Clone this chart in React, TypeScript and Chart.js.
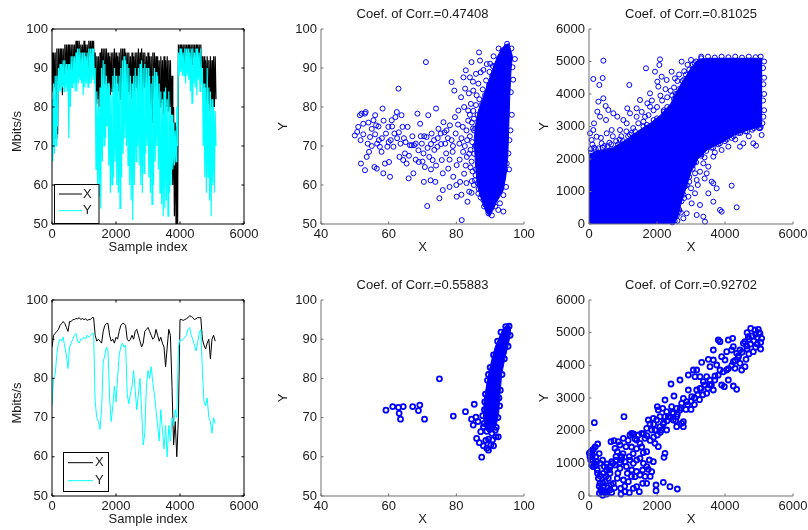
import React, { useEffect, useRef } from "react";
import { Chart, registerables } from "chart.js";
Chart.register(...registerables);

const FONT = '"Liberation Sans", Arial, Helvetica, sans-serif';
const TEXT = "#1a1a1a";
const BLUE = "#0000ff";
const CYAN = "#00ffff";
const AXIS_GRAY = "#707070";

// ---------- Time series (one reading per 50 samples) ----------
const sampleIdx = [
  0, 50, 100, 150, 200, 250, 300, 350, 400, 450,
  500, 550, 600, 650, 700, 750, 800, 850, 900, 950,
  1000, 1050, 1100, 1150, 1200, 1250, 1300, 1350, 1400, 1450,
  1500, 1550, 1600, 1650, 1700, 1750, 1800, 1850, 1900, 1950,
  2000, 2050, 2100, 2150, 2200, 2250, 2300, 2350, 2400, 2450,
  2500, 2550, 2600, 2650, 2700, 2750, 2800, 2850, 2900, 2950,
  3000, 3050, 3100, 3150, 3200, 3250, 3300, 3350, 3400, 3450,
  3500, 3550, 3600, 3650, 3700, 3750, 3800, 3850, 3900, 3950,
  4000, 4050, 4100, 4150, 4200, 4250, 4300, 4350, 4400, 4450,
  4500, 4550, 4600, 4650, 4700, 4750, 4800, 4850, 4900, 4950,
  5000, 5050, 5100,
];

// Top-left panel: noisy series, high / low reading per 50-sample bin
const topYHigh = [
  82, 86, 88, 88, 90, 91, 91, 92, 92, 91,
  91, 91, 93, 93, 93, 94, 95, 95, 94, 94,
  94, 93, 94, 95, 95, 95, 95, 90, 84, 80,
  85, 90, 92, 91, 88, 86, 85, 83, 88, 90,
  88, 86, 88, 90, 92, 93, 92, 91, 90, 88,
  86, 88, 90, 88, 90, 91, 92, 90, 91, 90,
  90, 88, 86, 88, 90, 89, 88, 86, 84, 82,
  84, 85, 82, 84, 80, 78, 76, 74, 80, 94,
  95, 95, 94, 95, 95, 95, 94, 95, 95, 94,
  95, 95, 94, 95, 90, 86, 85, 90, 85, 84,
  82, 80, 79,
];
const topYLow = [
  66, 68, 70, 75, 84, 84, 85, 84, 85, 84,
  72, 80, 85, 86, 84, 84, 86, 87, 86, 83,
  85, 86, 85, 86, 86, 87, 86, 64, 60, 57,
  54, 66, 70, 72, 75, 65, 58, 60, 62, 66,
  60, 58, 54, 62, 68, 72, 70, 65, 60, 56,
  51, 60, 66, 70, 65, 60, 58, 63, 68, 70,
  62, 58, 55, 60, 66, 70, 64, 58, 55, 52,
  54, 56, 52, 58, 60, 64, 65, 66, 70, 88,
  89, 88, 88, 86, 88, 87, 84, 81, 86, 85,
  83, 87, 84, 86, 70, 62, 58, 62, 56, 52,
  60, 58, 70,
];
const topXHigh = [
  94, 94, 94, 95, 95, 95, 95, 95, 96, 96,
  96, 96, 96, 96, 96, 97, 97, 97, 96, 96,
  97, 96, 96, 97, 97, 97, 97, 94, 93, 93,
  94, 95, 95, 95, 95, 94, 93, 94, 94, 95,
  94, 93, 94, 95, 95, 95, 94, 94, 94, 93,
  94, 93, 94, 94, 95, 94, 95, 94, 94, 93,
  94, 93, 93, 94, 94, 93, 93, 92, 93, 92,
  93, 92, 93, 92, 92, 88, 80, 76, 75, 96,
  96, 96, 96, 96, 96, 96, 96, 96, 96, 96,
  96, 96, 96, 96, 93, 93, 92, 93, 92, 93,
  92, 93, 93,
];
const topXLow = [
  84, 85, 72, 73, 85, 86, 83, 86, 86, 87,
  86, 87, 88, 88, 88, 89, 89, 88, 89, 88,
  89, 88, 89, 89, 90, 89, 88, 81, 82, 80,
  84, 85, 86, 85, 84, 86, 83, 84, 85, 84,
  83, 84, 82, 84, 85, 86, 85, 84, 83, 82,
  80, 84, 85, 84, 83, 85, 84, 85, 82, 84,
  83, 80, 76, 82, 84, 83, 82, 80, 81, 78,
  82, 80, 79, 80, 78, 60, 52, 50, 50, 90,
  91, 91, 90, 91, 91, 91, 90, 91, 91, 90,
  91, 90, 90, 90, 85, 82, 80, 81, 79, 80,
  78, 80, 82,
];

// Bottom-left panel: smoother series
const botX = [
  88, 91, 91.5, 92, 92.5, 93.5, 94, 94.5, 94, 93,
  92, 94.5, 94.5, 95, 95, 95.3, 95.2, 95.5, 95, 95.3,
  95, 95.2, 94.8, 95, 95, 95.5, 95.5, 91, 89.5, 90,
  89.5, 89, 92, 93.5, 94, 94, 91, 89.5, 90, 89,
  90.5, 90, 92, 93.5, 94, 94, 93.5, 90, 89.5, 90,
  91, 90, 92, 92.5, 91, 89.5, 88, 89, 92, 92.5,
  93, 92, 91, 90, 90.5, 92.5, 91, 89.5, 90.5, 89,
  88, 83, 88, 92.5, 91, 78, 63, 69, 60, 70,
  95, 95, 94.8, 95, 95.2, 95.5, 96, 95.8, 95.5, 95,
  95.2, 95.5, 95.5, 95.5, 90, 88.5, 87.5, 89, 90, 85,
  90, 91, 89.5,
];
const botY = [
  73, 80, 81, 86, 89, 90, 89.5, 90.5, 88, 86,
  82.5, 88, 89, 90, 91, 91.5, 89.5, 89, 90, 90,
  90.5, 90, 91, 90.5, 91, 91.5, 91.5, 74, 70, 69,
  67, 72, 84, 86, 88, 87, 75, 69, 73, 78,
  74, 80, 86, 88, 89, 88, 88.5, 76, 73.5, 76,
  78, 82, 77, 72, 76, 80, 72, 63, 66, 78,
  82, 80, 83, 79, 76, 72, 68, 64, 72, 67,
  62, 68, 60, 68, 64, 70, 68, 72, 70, 88,
  90, 89.5, 90, 90.5, 91, 92.5, 93, 91, 90, 88.5,
  87, 89, 91.5, 92.5, 82, 74, 73, 75, 70, 69,
  66, 70, 68.5,
];

// ---------- Scatter panels ----------
const titles = [
  "Coef. of Corr.=0.47408",
  "Coef. of Corr.=0.81025",
  "Coef. of Corr.=0.55883",
  "Coef. of Corr.=0.92702",
];

// Top-middle: saturated cloud outline (lower / upper edge) + individual markers
const cloudTM_lower = [[85.3,72],[85.6,66],[86.2,60],[86.8,58],[87.8,55.5],[88.8,53],[89.8,52],[90.8,53.5],[91.8,55.5],[92.8,57],[93.8,58.5],[94.6,62],[95.2,67],[95.5,75],[95.8,83],[96.2,90],[96.6,93]];
const cloudTM_upper = [[85.3,72],[85.8,76],[86.5,79],[87.5,81.5],[88.5,84],[89.5,86.5],[90.5,89],[91.5,91.5],[92.5,93.5],[93.5,95],[94.5,96],[95.5,96.2],[96.6,93]];
const pointsTM = [
  [50.0,72.7],[50.7,73.6],[51.0,74.9],[51.5,77.9],[51.7,71.5],[52.0,78.3],[52.5,75.7],[53.0,78.3],[53.2,78.7],[51.8,65.5],
  [53.0,63.8],[53.5,67.2],[53.8,70.6],[54.2,68.5],[54.5,72.3],[55.0,74.4],[55.5,76.6],[56.0,77.9],[56.3,75.3],[55.8,64.6],
  [56.5,64.2],[56.6,70.6],[57.1,71.5],[57.4,69.8],[57.9,68.5],[58.2,79.6],[58.4,63.0],[58.9,65.5],[59.2,73.2],[59.6,69.8],
  [59.9,74.9],[60.1,65.9],[60.4,62.1],[60.6,71.5],[60.9,76.6],[61.4,69.8],[61.7,73.2],[62.0,77.4],[62.4,78.7],[62.9,84.7],
  [63.2,67.2],[63.5,70.6],[63.8,77.9],[64.1,74.9],[64.3,66.4],[64.8,68.1],[65.3,65.5],[65.6,74.9],[65.9,61.7],[66.3,70.2],
  [66.8,70.2],[67.3,63.0],[67.5,70.2],[68.0,70.6],[68.5,78.3],[68.8,68.9],[68.9,65.9],[69.3,75.7],[69.8,70.6],[70.3,68.1],
  [70.4,60.8],[70.7,64.6],[71.0,91.5],[71.2,72.3],[71.4,54.6],[71.7,77.9],[72.0,67.2],[72.4,61.2],[72.7,73.2],[73.0,66.4],
  [73.4,71.5],[73.8,60.8],[74.0,79.6],[74.4,69.8],[74.7,74.4],[75.0,56.6],[75.4,73.2],[75.7,66.4],[76.0,58.7],[76.2,76.1],
  [76.7,70.6],[77.0,68.1],[77.1,74.0],[77.6,64.2],[78.1,75.3],[78.6,86.4],[78.6,71.5],[78.9,68.5],[79.1,62.1],[79.4,84.2],
  [79.6,77.4],[79.8,73.2],[80.1,65.1],[80.1,57.0],[80.6,79.1],[80.9,70.6],[81.1,60.8],[81.4,82.5],[81.6,51.0],[81.9,74.9],
  [82.1,87.6],[82.3,62.9],[82.6,84.7],[82.8,89.4],[83.1,67.2],[83.3,55.7],[83.5,79.1],[83.8,58.3],[84.0,87.6],[84.3,80.8],
  [84.5,91.5],[85.0,84.2],[85.2,60.0],[85.5,61.2],[85.8,88.5],[86.5,57.8],[86.7,94.0],[87.0,91.9],[87.2,88.9],[88.0,56.1],
  [89.0,54.4],[89.5,52.7],[90.0,91.1],[92.9,55.3],[93.9,57.4],[94.4,63.8],[94.9,65.5],[95.4,68.1],[95.7,71.5],[96.1,83.8],
  [96.6,90.2],[97.3,92.3],[93.9,53.2],[92.4,53.6],
  [81.5,72],[82.5,70],[83,74],[83.5,76.5],[84,72.5],[84.2,69],[84.5,66],[84.8,63.5],[84.6,76],[84,78],
  [83.2,71.5],[82,68.5],[81,66.5],[80.5,75.5],[79,70],[78,66.5],[77.5,72],[76.5,73.5],[75.5,70.5],[74.5,72],
  [73.5,69],[72.5,70.5],[71.5,69.5],[70.5,72.5],[69.5,72.5],[67,72.5],[65,71],[62.5,72],[61,75],[58,72],
  [57,75],[55,70],[52.5,73],[54,76],[56,73],[58.5,76.5],[60,71],[63,73.5],[64.5,72],[66,67.5],
  [68,66.5],[70,66],[72.5,64],[74,65],[76,63],[78,59.5],[80,60],[81.5,57.5],[83,60.5],[84.5,58],
  [85.8,64],[85.3,68],[84.9,86.5],[83.7,83.5],[82.3,80],[86,83],[86.5,86],[88,89.5],[89,91],[91,93],
  [92.5,95],[95,96.2],[96.3,95],[96.8,87],[96.4,78],[96,74],[95.6,64],[94.7,59.5],[91.5,54.5],[90.5,52.2],
  [88.5,55],[87.5,57.5],[86.3,60.5],[85.8,70],[85.6,74.5],[86.3,78],[87.4,80.5],[88.5,83],[89.6,85.5],[90.6,88],
  [91.6,90.5],[92.6,92.5],[93.6,94.5],
  [85.5,70],[85.2,74],[85.7,62.5],[86.6,59],[87.2,56.8],[88.2,54.5],[84.7,71],[84.9,74.5],[85.2,77],[85.8,80.5],
  [86.8,82],[87.8,84.5],[88.8,86.8],[89.8,89],[90.8,90.5],[84.2,64.5],[84.6,61],[83.8,68],[82.8,65],[85,79],
];

// Top-right: saturated band outline + individual markers
const cloudTR_lower = [[0,0],[2500,0],[2600,200],[2700,600],[2850,1100],[3000,1600],[3200,2000],[3500,2300],[3900,2500],[4300,2750],[4700,2900],[5100,3000]];
const cloudTR_upper = [[0,2150],[300,2250],[700,2350],[1100,2600],[1500,2900],[1800,3100],[2100,3350],[2400,3700],[2700,4300],[3000,4800],[3200,5050],[3500,5100],[5100,5100]];
const pointsTR = [
  [422,5026],[127,4462],[402,4492],[304,4277],[422,3867],[275,3764],[490,3631],[569,3508],[716,3405],[833,3303],
  [1010,3200],[1186,4277],[1127,3559],[1206,3405],[1402,3559],[1676,4790],[1716,3713],[1794,3610],[1941,4687],[2010,4379],
  [2069,4892],[2039,4226],[2137,4533],[2088,5067],[2284,4431],[2431,4687],[2529,4482],[2725,4995],[245,3456],[324,3303],
  [127,2892],[225,2687],[520,2790],[667,2892],[78,2585],[373,2482],[912,2892],[1108,3097],[275,2328],[1500,3815],
  [1794,4020],[30,2790],[147,3097],[500,3200],
  [600,2500],[800,2550],[950,2700],[1200,2750],[1300,2950],[1450,3100],[1600,3150],[1650,3300],[1750,3350],[1900,3500],
  [2000,3600],[2150,3800],[2200,3500],[2300,3900],[2400,4100],[2500,4200],[2600,4400],[2650,4600],[2800,4700],[2900,4900],
  [3000,5050],[3100,4950],[3300,5150],[3400,5000],[2600,4000],[2450,3950],[2800,4450],[1400,3300],[1100,2850],[900,2600],
  [450,2400],[200,2300],[100,2450],[60,2200],[350,2650],[700,2700],[1550,3450],[1850,3800],[2250,4150],[2100,3950],
  [2755,1969],[2971,2072],[3118,1559],[3265,1610],[3461,1559],[3608,1303],[3657,1251],[3755,1097],[4196,1179],[4343,513],
  [3657,687],[3853,431],[3902,380],[3363,226],[3412,72],[3118,944],[3265,585],[3020,636],[2873,328],[2775,174],
  [3167,277],[3657,2072],[3902,2277],[4098,2380],[4441,2380],[4539,2482],[4833,2482],[4912,2410],[5078,2738],[5029,2944],
  [3363,1867],[3510,1764],[3167,1354],[2824,1149],[2922,841],[3510,944],
  [2600,100],[2700,350],[2650,450],[2800,800],[2950,1300],[3050,1800],[3300,2150],[3600,2350],[3800,2450],[4000,2550],
  [4200,2650],[4400,2800],[4600,2850],[4800,2900],[5000,2950],[5100,3100],[5150,3500],[5150,4000],[5150,4500],[5150,5000],
  [2900,1500],[3100,1900],[3400,2050],[3700,2200],[4300,2600],[4700,2700],[2700,900],[2550,300],[2450,50],[2750,1400],
  [3000,1100],[3200,1200],[3400,1400],
  [50,2300],[150,2350],[250,2200],[400,2350],[550,2400],[650,2450],[850,2450],[1000,2550],[1150,2700],[1250,2800],
  [1350,2850],[1600,3000],[1700,3050],[1900,3200],[2000,3250],[2200,3450],[2300,3600],[2500,3850],[2550,4000],[2650,4150],
  [2750,4400],[2850,4600],[2950,4750],[3050,4900],[3150,5000],
  [3300,5100],[3500,5150],[3700,5120],[3900,5150],[4100,5130],[4300,5150],[4500,5120],[4700,5150],[4900,5130],[5050,5150],
  [5120,4800],[5130,4300],[5120,3800],[5130,3300],
  [2520,100],[2580,250],[2650,400],[2720,700],[2780,900],[2880,1200],[2950,1450],[3050,1700],[3150,1900],[3300,2100],
  [3450,2250],[3650,2350],[3850,2480],[4050,2600],[4250,2700],[4450,2800],[4650,2850],[4850,2950],[5050,2980],
];

// Bottom-middle: dense streak outline + individual markers
const cloudBM_lower = [[88,70],[88.7,67],[89.7,66],[90.8,66.5],[91.8,68],[92.5,71],[92.9,76],[93.4,81],[94.3,85],[95.2,88],[95.9,91],[96,93]];
const cloudBM_upper = [[88,70],[88.2,74],[88.7,77],[89.3,80],[90,83],[90.7,85.5],[91.5,88],[92.6,90.3],[93.6,92.2],[94.6,93.4],[95.5,93.6],[96,93]];
const pointsBM = [
  [59.2,71.9],[61.2,72.8],[62.9,72.6],[63.1,71.1],[63.5,69.6],[64.3,72.8],[67.1,72.8],[68.8,71.8],[69.2,73.2],[70.6,69.6],
  [75.0,79.9],[79.1,70.4],[82.7,71.5],[84.5,69.6],[85.0,68.1],[85.3,73.4],[85.8,70.1],[86.0,64.7],[86.8,63.6],[87.5,59.9],
  [89.5,81.0],[88.0,62.8],[89.0,62.2],[89.5,61.7],[90.7,64.3],[91.7,65.1],[92.4,65.1],[91.5,66.8],[87.2,66.4],[88.0,67.7],
  [86.4,69.0],
  [88.3,72],[88.6,76],[89.2,79.5],[90,82.8],[91,86],[92.2,89.5],[93.2,91.8],[94.6,93.2],[95.6,93.3],[95.9,91],
  [95.3,88.2],[94.2,85],[93.5,81],[93,77],[92.8,73],[92.3,70],[91.8,67.5],[89,66.5],[88.2,68.5],[90.5,66],
  [89.5,64.5],[90.2,63],[91,62.8],[88.7,64.2],[87.8,70.5],[92.6,75],[88.4,74],
];

// Bottom-right: individual markers
const pointsBR = [
  [4755,5133],[4882,5082],[4980,5102],[5029,4980],[5078,4827],[5049,4500],[4833,4418],[4637,4592],[4539,4673],[4686,4878],
  [4588,4724],[4441,4469],[4343,4367],[4392,4245],[4245,4112],[4441,4061],[4588,3959],[4618,4184],[4490,3857],[4294,3908],
  [4343,3265],[4245,3367],[4196,4469],[4098,4776],[4225,4827],[4245,4571],[4049,4418],[4000,4163],[4049,3857],[4098,3551],
  [3853,4724],[3804,4776],[3657,4469],[3902,4265],[3755,4010],[3853,3857],[3657,4163],[3706,3673],[3559,3959],[3510,4184],
  [3314,4092],[3167,3857],[3461,3653],[3559,3551],[3363,3500],[3265,3653],[3118,3653],[3069,3857],[2922,3704],[3265,3296],
  [3461,3143],[3657,3245],[3902,3398],[3980,3347],[3167,3245],[3020,3041],[2922,3245],[2775,2990],[2873,2888],[2725,2837],
  [2578,2684],[2676,2633],[2431,2735],[2480,2531],[2333,2429],[2578,2429],[2480,2327],[2578,2122],[2725,2224],[2775,2122],
  [2775,2276],[2412,3429],[2500,3061],[2676,3551],[2235,2939],[2010,2735],[2039,2633],[2167,2684],[2284,2582],[2235,2429],
  [2088,2429],[1990,2327],[1892,2378],[1745,2327],[1794,2204],[1696,2071],[1843,2020],[1941,2020],[2088,2122],[2186,2204],
  [2284,2020],[2137,2020],[2010,1867],[1941,1612],[2039,1510],[2235,1306],[2206,1184],[1549,1918],[1451,1867],[1304,1898],
  [1206,1867],[1255,1918],[1402,1714],[1500,1612],[1647,1765],[1598,1327],[1696,1357],[1775,1102],[1892,1051],[1500,1153],
  [1402,1102],[1304,1000],[1088,1510],[1010,1765],[863,1663],[735,1694],[647,1663],[765,1459],[912,1561],[833,1357],
  [961,1204],[794,1204],[667,1051],[520,980],[618,898],[765,949],[912,1020],[1059,1051],[1186,1204],[1255,796],
  [1127,694],[1010,490],[1157,439],[1353,592],[1500,643],[1578,388],[1402,286],[1480,133],[1304,235],[1696,388],
  [1843,745],[1745,816],[1578,796],[1971,337],[1971,163],[2186,418],[2382,286],[2598,214],[912,847],[833,541],
  [716,388],[931,235],[941,61],[1059,133],[1186,102],[618,184],[471,102],[373,133],[422,286],[324,388],
  [471,439],[569,541],[618,694],[520,796],[422,694],[324,612],[275,541],[245,796],[206,949],[127,898],
  [78,949],[29,1204],[49,1357],[127,1429],[10,1306],[108,1102],[225,1051],[324,1000],[255,1592],[157,2245],
  [1029,2429],[373,163],[304,82],[402,20],[520,61],[667,102],
  [3000,2900],[3100,3000],[3200,3100],[3300,3300],[3400,3400],[3550,3400],[3700,3550],[3800,3700],[3950,3800],[4100,3900],
  [4200,4000],[4300,4150],[4400,4300],[4500,4400],[4650,4500],[4750,4650],[4850,4750],[4950,4850],[5000,5000],[4900,4950],
  [4800,4900],[4700,4800],[4650,5000],[4950,4650],[5050,4700],[4900,4550],[4700,4350],[2900,2800],[2850,2650],[3000,2650],
  [3100,2800],[3250,2950],[3350,3100],[3500,3300],[3600,3400],[2600,2500],[2700,2700],[2550,2300],[2400,2400],[2300,2300],
  [2200,2250],[2450,2550],[1900,2200],[1600,1900],[1700,1850],[1350,1750],[1150,1700],[1250,1500],[1400,1450],[1550,1500],
  [1800,1700],[1900,1800],[2100,1950],[1000,1300],[950,1100],[700,1000],[800,1100],[600,800],[500,600],[400,400],
  [300,300],[350,200],[450,150],[550,250],[250,700],[150,1000],[100,1400],[200,1200],[300,1300],[400,1100],
  [450,900],[1100,900],[1200,1100],[1300,1300],[1600,1000],[1700,900],[1800,600],[1650,600],[1400,750],[1250,600],
  [1050,300],[850,700],[750,250],[650,350],[100,1250],[50,1100],[180,1500],
];

// ---------- helpers ----------
function zigzag(hi: number[], lo: number[]) {
  const pts: { x: number; y: number }[] = [];
  for (let i = 0; i < sampleIdx.length; i++) {
    pts.push({ x: sampleIdx[i], y: hi[i] });
    pts.push({ x: sampleIdx[i] + 25, y: lo[i] });
  }
  return pts;
}
function series(vals: number[]) {
  return vals.map((v, i) => ({ x: sampleIdx[i], y: v }));
}
function pairs(p: number[][]) {
  return p.map((q) => ({ x: q[0], y: q[1] }));
}
function lineDs(data: any, color: string, width: number, order: number) {
  return { data, showLine: true, borderColor: color, borderWidth: width, pointRadius: 0, fill: false, order, spanGaps: true };
}
function markerDs(data: any, width: number) {
  return {
    data, showLine: false, pointStyle: "circle", pointRadius: 2.5, pointBorderWidth: width,
    pointBorderColor: BLUE, pointBackgroundColor: "rgba(0,0,0,0)", clip: 8, order: 0,
  };
}
function cloudDs(lower: number[][], upper: number[][]) {
  return [
    { data: pairs(lower), showLine: true, borderColor: BLUE, borderWidth: 1, pointRadius: 0, fill: false, order: 1 },
    { data: pairs(upper), showLine: true, borderColor: BLUE, borderWidth: 1, pointRadius: 0, fill: "-1", backgroundColor: BLUE, order: 1 },
  ];
}

type Spec = any;

const SPECS: Spec[] = [
  {
    rect: { L: 52, T: 29, R: 244, B: 224 }, xMin: 0, xMax: 6000, xStep: 2000, yMin: 50, yMax: 100, yStep: 10,
    box: true, xLabel: "Sample index", yLabel: "Mbits/s", yLabelX: 17, yLabelDy: 5,
    legend: { x0: 54.5, y0: 184.5, x1: 99, y1: 223.5, l0: 59, l1: 82, tx: 83, rows: [194, 210.7] },
    datasets: [lineDs(zigzag(topYHigh, topYLow), CYAN, 1.2, 1), lineDs(zigzag(topXHigh, topXLow), "#000", 1.2, 2)],
  },
  {
    rect: { L: 321, T: 29, R: 524, B: 224 }, xMin: 40, xMax: 100, xStep: 20, yMin: 50, yMax: 100, yStep: 10,
    box: false, title: titles[0], xLabel: "X", yLabel: "Y", yLabelX: 283.5, yLabelDy: 0,
    datasets: [...cloudDs(cloudTM_lower, cloudTM_upper), markerDs(pairs(pointsTM), 1)],
  },
  {
    rect: { L: 589, T: 29, R: 793, B: 224 }, xMin: 0, xMax: 6000, xStep: 2000, yMin: 0, yMax: 6000, yStep: 1000,
    box: false, title: titles[1], xLabel: "X", yLabel: "Y", yLabelX: 544, yLabelDy: 0,
    datasets: [...cloudDs(cloudTR_lower, cloudTR_upper), markerDs(pairs(pointsTR), 1)],
  },
  {
    rect: { L: 52, T: 300, R: 244, B: 496 }, xMin: 0, xMax: 6000, xStep: 2000, yMin: 50, yMax: 100, yStep: 10,
    box: true, xLabel: "Sample index", yLabel: "Mbits/s", yLabelX: 17, yLabelDy: 5,
    legend: { x0: 63.5, y0: 452.5, x1: 108.5, y1: 491.5, l0: 68, l1: 93, tx: 95, rows: [462.7, 480.7] },
    datasets: [lineDs(series(botY), CYAN, 1, 1), lineDs(series(botX), "#000", 1, 2)],
  },
  {
    rect: { L: 321, T: 300, R: 524, B: 496 }, xMin: 40, xMax: 100, xStep: 20, yMin: 50, yMax: 100, yStep: 10,
    box: false, title: titles[2], xLabel: "X", yLabel: "Y", yLabelX: 283.5, yLabelDy: 0,
    datasets: [...cloudDs(cloudBM_lower, cloudBM_upper), markerDs(pairs(pointsBM), 1.8)],
  },
  {
    rect: { L: 589, T: 300, R: 793, B: 496 }, xMin: 0, xMax: 6000, xStep: 2000, yMin: 0, yMax: 6000, yStep: 1000,
    box: false, title: titles[3], xLabel: "X", yLabel: "Y", yLabelX: 544, yLabelDy: 0,
    datasets: [markerDs(pairs(pointsBR), 1.8)],
  },
];

function decorPlugin(spec: Spec) {
  return {
    id: "decor",
    afterDraw(chart: any) {
      const ctx = chart.ctx;
      const { left: L, right: R, top: T, bottom: B } = chart.chartArea;
      const xs = chart.scales.x;
      const ys = chart.scales.y;
      ctx.save();
      ctx.strokeStyle = spec.box ? "#000" : AXIS_GRAY;
      ctx.lineWidth = 1;
      ctx.beginPath();
      if (spec.box) {
        ctx.rect(L, T, R - L, B - T);
      } else {
        ctx.moveTo(L, T);
        ctx.lineTo(L, B);
        ctx.lineTo(R, B);
      }
      ctx.stroke();
      const tl = 2.5;
      ctx.beginPath();
      xs.ticks.forEach((t: any) => {
        const p = xs.getPixelForValue(t.value);
        ctx.moveTo(p, B);
        ctx.lineTo(p, B - tl);
        if (spec.box) {
          ctx.moveTo(p, T);
          ctx.lineTo(p, T + tl);
        }
      });
      ys.ticks.forEach((t: any) => {
        const p = ys.getPixelForValue(t.value);
        ctx.moveTo(L, p);
        ctx.lineTo(L + tl, p);
        if (spec.box) {
          ctx.moveTo(R, p);
          ctx.lineTo(R - tl, p);
        }
      });
      ctx.stroke();

      ctx.fillStyle = TEXT;
      ctx.font = `13px ${FONT}`;
      ctx.textAlign = "center";
      ctx.textBaseline = "middle";
      if (spec.title) ctx.fillText(spec.title, (L + R) / 2, T - 14.7);
      ctx.fillText(spec.xLabel, (L + R) / 2, B + 23.5);
      ctx.save();
      ctx.translate(spec.yLabelX, (T + B) / 2 + spec.yLabelDy);
      ctx.rotate(-Math.PI / 2);
      ctx.fillText(spec.yLabel, 0, 0);
      ctx.restore();

      if (spec.legend) {
        const lg = spec.legend;
        ctx.fillStyle = "#fff";
        ctx.fillRect(lg.x0, lg.y0, lg.x1 - lg.x0, lg.y1 - lg.y0);
        ctx.strokeStyle = "#000";
        ctx.lineWidth = 1;
        ctx.strokeRect(lg.x0, lg.y0, lg.x1 - lg.x0, lg.y1 - lg.y0);
        const items = [
          { label: "X", color: "#000" },
          { label: "Y", color: CYAN },
        ];
        items.forEach((it, i) => {
          const y = lg.rows[i];
          ctx.strokeStyle = it.color;
          ctx.lineWidth = 1;
          ctx.beginPath();
          ctx.moveTo(lg.l0, y);
          ctx.lineTo(lg.l1, y);
          ctx.stroke();
          ctx.fillStyle = TEXT;
          ctx.textAlign = "left";
          ctx.fillText(it.label, lg.tx, y);
        });
      }
      ctx.restore();
    },
  };
}

function buildConfig(spec: Spec) {
  const { L, T, R, B } = spec.rect;
  const YW = 40;
  const XH = 20;
  const tickFont = { family: FONT, size: 13 };
  const fmt = (v: any) => String(v);
  return {
    type: "scatter",
    data: { datasets: spec.datasets },
    options: {
      responsive: false,
      maintainAspectRatio: false,
      animation: false,
      events: [],
      layout: { autoPadding: false, padding: { left: L - YW, right: 808 - R, top: T, bottom: 530 - B - XH } },
      plugins: { legend: { display: false }, tooltip: { enabled: false }, title: { display: false } },
      scales: {
        x: {
          type: "linear", position: "bottom", min: spec.xMin, max: spec.xMax,
          ticks: { stepSize: spec.xStep, callback: fmt, font: tickFont, color: TEXT, padding: 3, maxRotation: 0, autoSkip: false },
          grid: { display: false, drawTicks: false },
          border: { display: false },
          afterFit: (s: any) => { s.height = XH; s.paddingLeft = 0; s.paddingRight = 0; },
        },
        y: {
          type: "linear", position: "left", min: spec.yMin, max: spec.yMax,
          ticks: { stepSize: spec.yStep, callback: fmt, font: tickFont, color: TEXT, padding: 4, autoSkip: false },
          grid: { display: false, drawTicks: false },
          border: { display: false },
          afterFit: (s: any) => { s.width = YW; s.paddingTop = 0; s.paddingBottom = 0; },
        },
      },
    },
    plugins: [decorPlugin(spec)],
  };
}

export default function App() {
  const refs = useRef<(HTMLCanvasElement | null)[]>([]);
  useEffect(() => {
    const charts = SPECS.map((spec, i) => new Chart(refs.current[i] as HTMLCanvasElement, buildConfig(spec) as any));
    return () => charts.forEach((c) => c.destroy());
  }, []);
  return (
    <div style={{ position: "absolute", left: 0, top: 0, width: 808, height: 530, background: "#fff", overflow: "hidden" }}>
      {SPECS.map((_, i) => (
        <canvas
          key={i}
          ref={(el) => { refs.current[i] = el; }}
          width={808}
          height={530}
          style={{ position: "absolute", left: 0, top: 0, width: 808, height: 530 }}
        />
      ))}
    </div>
  );
}
